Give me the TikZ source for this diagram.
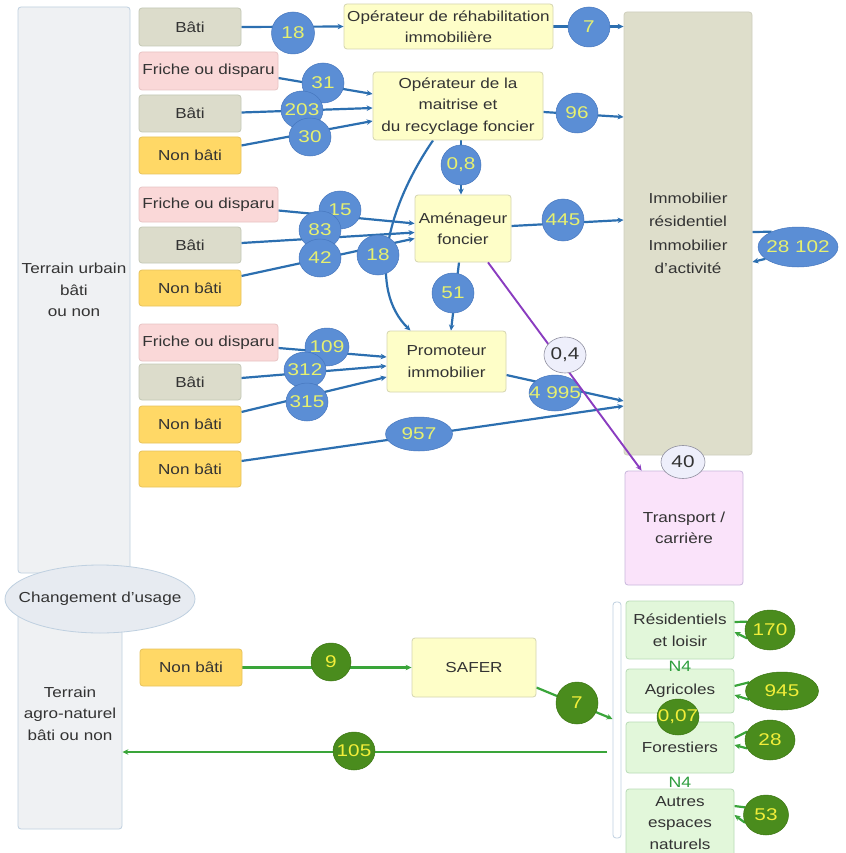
\documentclass[tikz,border=0pt]{standalone}
\usepackage{fontspec}
\setmainfont{Liberation Sans}[FakeStretch=1.18]
\newfontfamily\numfont{Liberation Sans}[FakeStretch=1.22]
\usetikzlibrary{shapes.geometric,arrows.meta,calc}
\pgfdeclarelayer{back}
\pgfdeclarelayer{bg}
\pgfsetlayers{back,bg,main}
\definecolor{txt}{HTML}{333333}
\definecolor{lboxf}{HTML}{EFF1F3}
\definecolor{lboxd}{HTML}{BFD0E0}
\definecolor{chgf}{HTML}{E7EBF1}
\definecolor{batif}{HTML}{DCDCCB}
\definecolor{batid}{HTML}{C4C9B7}
\definecolor{frichef}{HTML}{FAD8D8}
\definecolor{friched}{HTML}{E8C4C4}
\definecolor{nonbf}{HTML}{FFD866}
\definecolor{nonbd}{HTML}{E6C25C}
\definecolor{operf}{HTML}{FEFEC8}
\definecolor{operd}{HTML}{D5D5B0}
\definecolor{immof}{HTML}{DEDECB}
\definecolor{immod}{HTML}{CFCFBD}
\definecolor{transf}{HTML}{FAE3FA}
\definecolor{transd}{HTML}{C9B8DC}
\definecolor{grbf}{HTML}{E2F7DA}
\definecolor{grbd}{HTML}{B9DCB7}
\definecolor{bluef}{HTML}{5B8ED5}
\definecolor{blued}{HTML}{4677BE}
\definecolor{bluet}{HTML}{E6F070}
\definecolor{grayf}{HTML}{EEEFFB}
\definecolor{grayd}{HTML}{8E8E9E}
\definecolor{greenf}{HTML}{4A8C1D}
\definecolor{greend}{HTML}{3B7612}
\definecolor{greent}{HTML}{F2EE3A}
\definecolor{bline}{HTML}{2C6FB0}
\definecolor{gline}{HTML}{3AA53A}
\definecolor{pline}{HTML}{8A3CC0}
\definecolor{nfour}{HTML}{2E9E3E}
\newcommand\valtxt[1]{\makebox[0pt]{#1}}
\begin{document}
\begin{tikzpicture}[x=1pt,y=-1pt,
  font=\fontsize{14.5}{21.5}\selectfont,
  box/.style={draw, rounded corners=3pt, line width=0.8pt, inner sep=0pt, align=center, text=txt},
  lbox/.style={box, fill=lboxf, draw=lboxd},
  bati/.style={box, fill=batif, draw=batid, minimum width=102},
  friche/.style={box, fill=frichef, draw=friched, minimum width=139},
  nonbati/.style={box, fill=nonbf, draw=nonbd, minimum width=102},
  oper/.style={box, fill=operf, draw=operd},
  grbox/.style={box, fill=grbf, draw=grbd, minimum width=108},
  valb/.style={ellipse, fill=bluef, draw=blued, line width=0.5pt, inner sep=0pt, text=bluet,
    font=\numfont\fontsize{17}{20}\selectfont},
  valg/.style={ellipse, fill=greenf, draw=greend, line width=0.5pt, inner sep=0pt, text=greent,
    font=\numfont\fontsize{17}{20}\selectfont},
  valgr/.style={ellipse, fill=grayf, draw=grayd, line width=0.6pt, inner sep=0pt, text=txt,
    font=\numfont\fontsize{17}{20}\selectfont},
  bl/.style={draw=bline, line width=2.2pt, -{Stealth[length=6pt,width=5.5pt]}},
  blp/.style={draw=bline, line width=2.2pt},
  gl/.style={draw=gline, line width=2.2pt, -{Stealth[length=6pt,width=5.5pt]}},
  glp/.style={draw=gline, line width=2.2pt},
  pl/.style={draw=pline, line width=1.9pt, -{Stealth[length=6pt,width=5.5pt]}}
]
\clip (0,0) rectangle (845,853);
\begin{pgfonlayer}{back}
\fill[white] (0,0) rectangle (845,853);
\end{pgfonlayer}

% left columns
\node[lbox, minimum width=112, minimum height=566] (L1) at (74,290) {Terrain urbain\\bâti\\ou non};
\node[lbox, minimum width=104, minimum height=219] (L2) at (70,719.5) {};
\node[align=center, text=txt] (L2t) at ($(L2.center)+(0,-6)$) {Terrain\\agro-naturel\\bâti ou non};
\node[ellipse, fill=chgf, draw=lboxd, line width=0.8pt, inner sep=0pt, text=txt,
  minimum width=190, minimum height=68] (chg) at (100,599) {\valtxt{Changement d\symbol{39}usage}};

% source boxes
\node[bati, minimum height=38] (b1) at (190,27) {Bâti};
\node[friche, minimum height=38] (f1) at (208.5,71) {Friche ou disparu};
\node[bati, minimum height=37] (b2) at (190,113.5) {Bâti};
\node[nonbati, minimum height=37] (n1) at (190,155.5) {Non bâti};
\node[friche, minimum height=35] (f2) at (208.5,204.5) {Friche ou disparu};
\node[bati, minimum height=36] (b3) at (190,245) {Bâti};
\node[nonbati, minimum height=36] (n2) at (190,288) {Non bâti};
\node[friche, minimum height=37] (f3) at (208.5,342.5) {Friche ou disparu};
\node[bati, minimum height=36] (b4) at (190,382) {Bâti};
\node[nonbati, minimum height=37] (n3) at (190,424.5) {Non bâti};
\node[nonbati, minimum height=36] (n4) at (190,469) {Non bâti};
\node[nonbati, minimum height=37] (n5) at (191,667.5) {Non bâti};

% operators
\node[oper, minimum width=209, minimum height=45] (opr) at (448.5,26.5) {Opérateur de réhabilitation\\immobilière};
\node[oper, minimum width=170, minimum height=68] (opm) at (458,106) {Opérateur de la\\maitrise et\\du recyclage foncier};
\node[oper, minimum width=96, minimum height=67] (amen) at (463,228.5) {Aménageur\\foncier};
\node[oper, minimum width=119, minimum height=61] (prom) at (446.5,361.5) {Promoteur\\immobilier};
\node[oper, minimum width=124, minimum height=59] (safer) at (474,667.5) {SAFER};

% right column
\node[box, fill=immof, draw=immod, minimum width=128, minimum height=443] (immo) at (688,233.5)
  {Immobilier\\[2pt]résidentiel\\[2pt]Immobilier\\[2pt]d\symbol{39}activité};
\node[box, fill=transf, draw=transd, minimum width=118, minimum height=114] (trans) at (684,528) {Transport /\\carrière};
\node[draw=lboxd, fill=white, line width=0.8pt, rounded corners=3pt, minimum width=8, minimum height=236, inner sep=0pt] (brk) at (617,720) {};
\node[grbox, minimum height=58] (res) at (680,630) {Résidentiels\\et loisir};
\node[grbox, minimum height=44] (agr) at (680,691) {Agricoles};
\node[grbox, minimum height=51] (fore) at (680,747.5) {Forestiers};
\node[grbox, minimum height=68] (aut) at (680,823) {Autres\\espaces\\naturels};
\node[text=nfour, inner sep=0pt, font=\fontsize{15}{17}\selectfont] (n4a) at (680,666) {N4};
\node[text=nfour, inner sep=0pt, font=\fontsize{15}{17}\selectfont] (n4b) at (680,782) {N4};

% blue values
\node[valb, minimum width=43, minimum height=42] (v18a) at (293,33) {\valtxt{18}};
\node[valb, minimum width=42, minimum height=40] (v7a) at (589,27) {\valtxt{7}};
\node[valb, minimum width=42, minimum height=40] (v31) at (323,83) {\valtxt{31}};
\node[valb, minimum width=42, minimum height=38] (v203) at (302,110) {\valtxt{203}};
\node[valb, minimum width=42, minimum height=38] (v30) at (310,137) {\valtxt{30}};
\node[valb, minimum width=42, minimum height=40] (v96) at (577,113) {\valtxt{96}};
\node[valb, minimum width=40, minimum height=40] (v08) at (461,165) {\valtxt{0,8}};
\node[valb, minimum width=42, minimum height=38] (v15) at (340,210) {\valtxt{15}};
\node[valb, minimum width=42, minimum height=38] (v83) at (320,230) {\valtxt{83}};
\node[valb, minimum width=42, minimum height=38] (v42) at (320,258) {\valtxt{42}};
\node[valb, minimum width=42, minimum height=40] (v18b) at (378,255) {\valtxt{18}};
\node[valb, minimum width=42, minimum height=42] (v445) at (563,220) {\valtxt{445}};
\node[valb, minimum width=80, minimum height=40] (v28102) at (798,247) {\valtxt{28 102}};
\node[valb, minimum width=42, minimum height=40] (v51) at (453,293) {\valtxt{51}};
\node[valb, minimum width=44, minimum height=38] (v109) at (327,347) {\valtxt{109}};
\node[valb, minimum width=42, minimum height=36] (v312) at (305,370) {\valtxt{312}};
\node[valb, minimum width=42, minimum height=38] (v315) at (307,402) {\valtxt{315}};
\node[valb, minimum width=67, minimum height=34] (v957) at (419,434) {\valtxt{957}};
\node[valb, minimum width=52, minimum height=36] (v4995) at (555,393) {\valtxt{4 995}};

% green values
\node[valg, minimum width=40, minimum height=38] (g9) at (331,662) {\valtxt{9}};
\node[valg, minimum width=42, minimum height=38] (g105) at (354,751) {\valtxt{105}};
\node[valg, minimum width=42, minimum height=42] (g7) at (577,703) {\valtxt{7}};
\node[valg, minimum width=50, minimum height=40] (g170) at (770,630) {\valtxt{170}};
\node[valg, minimum width=73, minimum height=38] (g945) at (782,691) {\valtxt{945}};
\node[valg, minimum width=42, minimum height=36] (g007) at (678,717) {\valtxt{0,07}};
\node[valg, minimum width=50, minimum height=40] (g28) at (770,740) {\valtxt{28}};
\node[valg, minimum width=45, minimum height=40] (g53) at (766,815) {\valtxt{53}};

% connectors behind
\begin{pgfonlayer}{bg}
\draw[bl] (b1.east) -- (opr.west);
\draw[bl] (opr.east) -- (opr.east -| immo.west);
\draw[bl] ([yshift=-7pt]f1.east) -- ([yshift=12pt]opm.west);
\draw[bl] ([yshift=1pt]b2.east) -- ([yshift=-2pt]opm.west);
\draw[bl] ([yshift=10pt]n1.east) -- ([yshift=-15pt]opm.west);
\draw[bl] ([yshift=-6pt]opm.east) -- ([yshift=-11pt]opm.east -| immo.west);
\draw[bl] (v08 |- opm.south) -- (v08 |- amen.north);
\draw[bl] ([xshift=-25pt]opm.south) .. controls +(-48,70) and +(-42,-41) .. ([xshift=-36pt]prom.north);
\draw[bl] ([yshift=-6pt]f2.east) -- ([yshift=5pt]amen.west);
\draw[bl] ([yshift=2pt]b3.east) -- ([yshift=-4pt]amen.west);
\draw[bl] ([yshift=12pt]n2.east) -- ([yshift=-10pt]amen.west);
\draw[bl] ([yshift=2.5pt]amen.east) -- ([yshift=8.5pt]amen.east -| immo.west);
\draw[bl] ([xshift=-4pt]amen.south) -- ([xshift=4.5pt]prom.north);
\draw[bl] ([yshift=-5.5pt]f3.east) -- ([yshift=4.5pt]prom.west);
\draw[bl] ([yshift=4pt]b4.east) -- ([yshift=-4.5pt]prom.west);
\draw[bl] ([yshift=12.5pt]n3.east) -- ([yshift=-15.5pt]prom.west);
\draw[bl] ([yshift=-13.5pt]prom.east) -- ([yshift=-39.5pt]prom.east -| immo.west);
\draw[bl] ([yshift=8pt]n4.east) -- ([yshift=63pt]n4.east -| immo.west);
\draw[blp] ([yshift=1.5pt]immo.east) -- (v28102.150);
\draw[bl] (v28102.200) -- ([yshift=-28.5pt]immo.east);
% green
\draw[gl] (n5.east) -- (safer.west);
\draw[gl] ([yshift=-20pt]safer.east) -- ([yshift=1pt]brk.west);
\coordinate (gs) at (607,752);
\draw[gl] (gs) -- (gs -| L2.east);
\draw[glp] ([yshift=8pt]res.east) -- (g170.160);
\draw[gl] (g170.200) -- ([yshift=-2pt]res.east);
\draw[glp] ([yshift=5pt]agr.east) -- (g945.165);
\draw[gl] (g945.195) -- ([yshift=-4pt]agr.east);
\draw[glp] ([yshift=9.5pt]fore.east) -- (g28.160);
\draw[gl] (g28.200) -- ([yshift=2.5pt]fore.east);
\draw[glp] ([yshift=17pt]aut.east) -- (g53.160);
\draw[gl] (g53.200) -- ([yshift=8pt]aut.east);
\end{pgfonlayer}

% purple connector on top, then its value
\draw[pl] ([xshift=25pt]amen.south) -- ([xshift=17pt]trans.north west);
\node[valgr, minimum width=42, minimum height=36] (v04) at (565,355) {\valtxt{0,4}};
\node[valgr, minimum width=44, minimum height=33] (v40) at (683,462) {\valtxt{40}};
\end{tikzpicture}
\end{document}
